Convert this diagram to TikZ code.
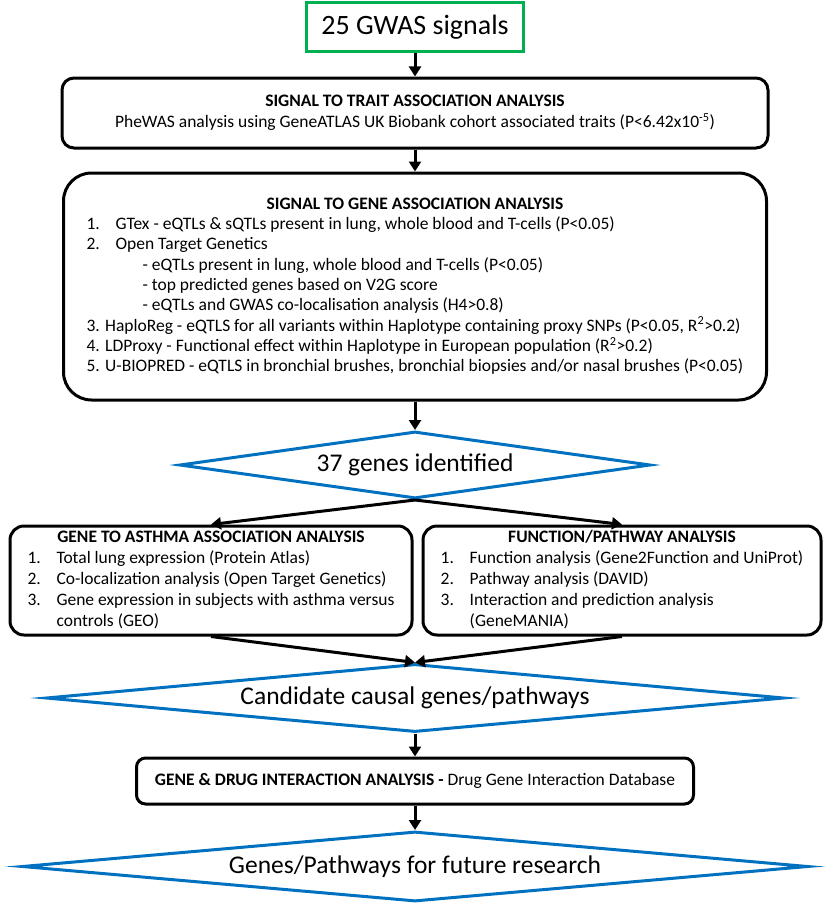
\documentclass[tikz,border=0pt]{standalone}
\usepackage{fontspec}
\setmainfont{Carlito}
\usetikzlibrary{shapes.geometric,arrows.meta}
\definecolor{signalgreen}{RGB}{0,176,80}
\definecolor{decisionblue}{RGB}{0,112,192}
\tikzset{
  stagebox/.style={draw=black, line width=3pt, rounded corners=14pt, inner sep=0pt},
  decision/.style={diamond, draw=decisionblue, line width=3pt, miter limit=25, inner sep=0pt,
                   font=\fontsize{25.5}{30}\selectfont},
  flow/.style={line width=3pt, -{Triangle[length=10pt,width=12pt]}},
}
\begin{document}
\begin{tikzpicture}[x=1pt, y=-1pt]
\useasboundingbox (0,0) rectangle (829,907);
% start
\node[draw=signalgreen, line width=3pt, minimum width=217pt, minimum height=49pt, inner sep=0pt,
      font=\fontsize{28}{32}\selectfont] (signals) at (415,27.5) {25 GWAS signals};
% trait association
\node[stagebox, rounded corners=12pt, minimum width=706pt, minimum height=70pt, font=\fontsize{17.5}{21}\selectfont]
  (trait) at (415,113) {\begin{tabular}{c}
  \textbf{SIGNAL TO TRAIT ASSOCIATION ANALYSIS}\\
  PheWAS analysis using GeneATLAS UK Biobank cohort associated traits (P<6.42x10\textsuperscript{-5})
  \end{tabular}};
% gene association
\node[stagebox, rounded corners=28pt, minimum width=703pt, minimum height=227pt, font=\fontsize{17.5}{20.3}\selectfont]
  (gene) at (415,286.5) {\begin{tabular}{@{}l@{}}
  \multicolumn{1}{@{}c@{}}{\textbf{SIGNAL TO GENE ASSOCIATION ANALYSIS}}\\
  \makebox[29pt][l]{1.}GTex - eQTLs \& sQTLs present in lung, whole blood and T-cells (P<0.05)\\
  \makebox[29pt][l]{2.}Open Target Genetics\\
  \hspace{56pt}- eQTLs present in lung, whole blood and T-cells (P<0.05)\\
  \hspace{56pt}- top predicted genes based on V2G score\\
  \hspace{56pt}- eQTLs and GWAS co-localisation analysis (H4>0.8)\\
  3. HaploReg - eQTLS for all variants within Haplotype containing proxy SNPs (P<0.05, R\textsuperscript{2}>0.2)\\
  4. LDProxy - Functional effect within Haplotype in European population (R\textsuperscript{2}>0.2)\\
  5. U-BIOPRED - eQTLS in bronchial brushes, bronchial biopsies and/or nasal brushes (P<0.05)
  \end{tabular}};
\node[decision, aspect=7, minimum width=471pt, minimum height=67pt] (genes) at (415,465) {37 genes identified};
% two branches
\node[stagebox, minimum width=402pt, minimum height=109pt, font=\fontsize{17.5}{21}\selectfont]
  (asthma) at (211,580.5) {\begin{tabular}{@{}l@{}}
  \multicolumn{1}{@{}c@{}}{\textbf{GENE TO ASTHMA ASSOCIATION ANALYSIS}}\\
  \makebox[29pt][l]{1.}Total lung expression (Protein Atlas)\\
  \makebox[29pt][l]{2.}Co-localization analysis (Open Target Genetics)\\
  \makebox[29pt][l]{3.}Gene expression in subjects with asthma versus\\
  \hspace{29pt}controls (GEO)
  \end{tabular}};
\node[stagebox, minimum width=398pt, minimum height=109pt, font=\fontsize{17.5}{21}\selectfont]
  (pathway) at (622,580.5) {\begin{tabular}{@{}l@{}}
  \multicolumn{1}{@{}c@{}}{\textbf{FUNCTION/PATHWAY ANALYSIS}}\\
  \makebox[29pt][l]{1.}Function analysis (Gene2Function and UniProt)\\
  \makebox[29pt][l]{2.}Pathway analysis (DAVID)\\
  \makebox[29pt][l]{3.}Interaction and prediction analysis\\
  \hspace{29pt}(GeneMANIA)
  \end{tabular}};
\node[decision, aspect=10.85, minimum width=738pt, minimum height=68pt] (causal) at (415,698) {Candidate causal genes/pathways};
\node[stagebox, rounded corners=9pt, minimum width=557pt, minimum height=46pt, font=\fontsize{17.5}{21}\selectfont]
  (drug) at (415,781) {\textbf{GENE \& DRUG INTERACTION ANALYSIS -} Drug Gene Interaction Database};
\node[decision, aspect=11.2, minimum width=786pt, minimum height=70pt] (future) at (415,866.5) {Genes/Pathways for future research};
% connectors
\draw[flow] (signals.south) -- (trait.north);
\draw[flow] (trait.south) -- (gene.north);
\draw[flow] (gene.south) -- (genes.north);
\draw[flow] (genes.south) -- (asthma.north);
\draw[flow] (genes.south) -- (pathway.north);
\draw[flow] (asthma.south) -- (causal.north);
\draw[flow] (pathway.south) -- (causal.north);
\draw[flow] (causal.south) -- (drug.north);
\draw[flow] (drug.south) -- (future.north);
\end{tikzpicture}
\end{document}
